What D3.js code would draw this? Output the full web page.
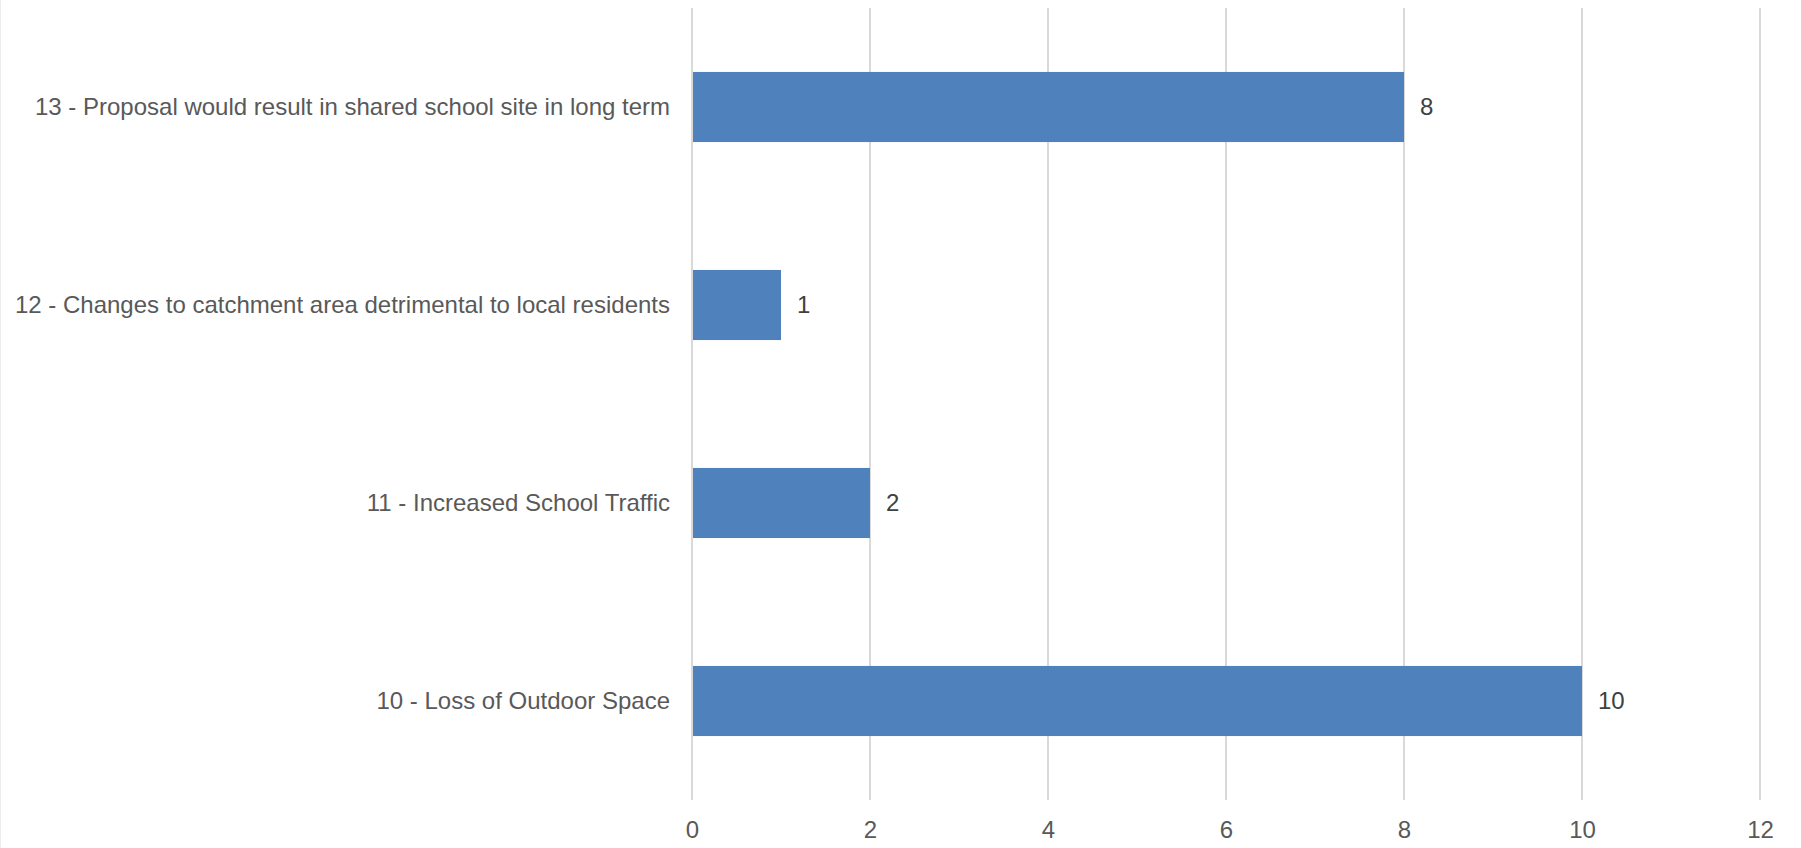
<!DOCTYPE html>
<html>
<head>
<meta charset="utf-8">
<script src="https://cdn.jsdelivr.net/npm/d3@7"></script>
<style>
  body { margin: 0; background: #fff; }
  svg { display: block; font-family: "Liberation Sans", Arial, sans-serif; }
</style>
</head>
<body>
<script>
// categories top to bottom
const categories = [
  "13 - Proposal would result in shared school site in long term",
  "12 - Changes to catchment area detrimental to local residents",
  "11 - Increased School Traffic",
  "10 - Loss of Outdoor Space"
];
const values = [8, 1, 2, 10];
const xTicks = [0, 2, 4, 6, 8, 10, 12];

window.onload = function() {
  const w = 1801;
  const h = 848;
  const left = 692, right = 1760, top = 8, bottom = 800;

  let svg = d3.select("body")
            .append("svg")
            .attr("width", w)
            .attr("height", h);

  // faint border at left edge
  svg.append("line")
     .attr("x1", 0.5).attr("x2", 0.5)
     .attr("y1", 0).attr("y2", h)
     .attr("stroke", "#ececec");

  let data = categories.map(function(c, i) { return {cat: c, val: values[i]}; });

  let xScale = d3.scaleLinear()
            .domain([0, 12])
            .range([left, right]);
  let yScale = d3.scaleBand()
            .domain(categories)
            .range([top, bottom])
            .paddingInner(0.646)
            .paddingOuter(0.323);

  // gridlines
  svg.append("g")
     .selectAll("line")
     .data(xTicks)
     .enter()
     .append("line")
     .attr("x1", function(d) { return xScale(d); })
     .attr("x2", function(d) { return xScale(d); })
     .attr("y1", top)
     .attr("y2", bottom)
     .attr("stroke", "#d9d9d9")
     .attr("stroke-width", 2);

  // bars
  svg.selectAll("rect.bar")
     .data(data)
     .enter()
     .append("rect")
     .attr("class", "bar")
     .attr("x", xScale(0) + 1)
     .attr("y", function(d) { return yScale(d.cat); })
     .attr("width", function(d) { return xScale(d.val) - xScale(0) - 1; })
     .attr("height", yScale.bandwidth())
     .attr("fill", "#4f81bd");

  // value labels
  svg.selectAll("text.val")
     .data(data)
     .enter()
     .append("text")
     .attr("class", "val")
     .attr("x", function(d) { return xScale(d.val) + 16; })
     .attr("y", function(d) { return yScale(d.cat) + yScale.bandwidth() / 2; })
     .attr("dy", "0.35em")
     .attr("font-size", 24)
     .attr("fill", "#404040")
     .text(function(d) { return d.val; });

  // category labels
  let yAxis = d3.axisLeft(yScale).tickSize(0).tickPadding(22);
  let gy = svg.append("g")
     .attr("transform", "translate(" + left + ",0)")
     .call(yAxis);
  gy.select(".domain").remove();
  gy.selectAll("text")
    .attr("font-size", 24)
    .attr("font-family", "Liberation Sans, Arial, sans-serif")
    .attr("fill", "#595959");

  // x axis labels
  let xAxis = d3.axisBottom(xScale).tickValues(xTicks).tickSize(0).tickPadding(21);
  let gx = svg.append("g")
     .attr("transform", "translate(0," + bottom + ")")
     .call(xAxis);
  gx.select(".domain").remove();
  gx.selectAll("text")
    .attr("font-size", 24)
    .attr("font-family", "Liberation Sans, Arial, sans-serif")
    .attr("fill", "#595959");
}
</script>
</body>
</html>
